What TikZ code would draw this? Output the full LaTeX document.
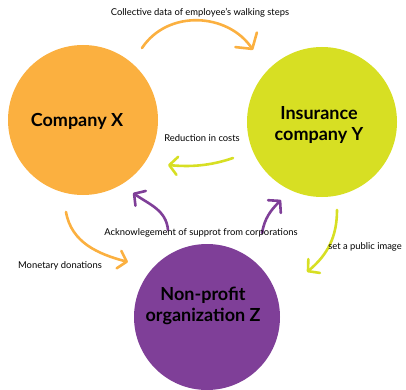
\documentclass[tikz,border=0pt]{standalone}
\usepackage{fontspec}
\setmainfont{Lato}
\usetikzlibrary{arrows.meta, positioning}
\definecolor{C_ORG}{HTML}{FBB040}
\definecolor{C_GRN}{HTML}{D7DF23}
\definecolor{C_PUR}{HTML}{7F3F98}

\begin{document}
\begin{tikzpicture}[
  x=1pt, y=1pt,
  every node/.style={font=\fontsize{9.4}{11}\selectfont},
  party/.style={circle, inner sep=0pt, minimum size=150pt},
  title/.style={font=\fontsize{18}{21}\selectfont\bfseries, align=center},
  flow/.style={-{Straight Barb[round, length=8pt, width=18pt]},
               line width=2.6pt, line cap=round},
]
\useasboundingbox (0,0) rectangle (406,389);

%% the three parties
\node[party, fill=C_ORG] (compx) at (83,269) {};
\node[party, fill=C_GRN] (insy)  at (322,267) {};
\node[party, fill=C_PUR, minimum size=146pt] (npz) at (207,72) {};

\node[title] (compxtxt) at (77,268) {Company X};
\node[title] (insytxt)  at (319,264) {Insurance\\company Y};
\node[title] (npztxt)   at (203,83) {Non-profit\\organization Z};

%% arrow ends
\coordinate (dataS) at (142,341);  \coordinate (dataE) at (253,339);
\coordinate (costS) at (233,231);  \coordinate (costE) at (168,224);
\coordinate (ackLS) at (168,159);  \coordinate (ackLE) at (133,196);
\coordinate (ackRS) at (262,156);  \coordinate (ackRE) at (281,189);
\coordinate (donS)  at (66,177);   \coordinate (donE)  at (128,127);
\coordinate (imgS)  at (337,179);  \coordinate (imgE)  at (307,117);

%% flows
\draw[flow, C_ORG, -{Straight Barb[round, length=11pt, width=26pt]}]
  (dataS) .. controls (168,380) and (228,376) .. (dataE);
\draw[flow, C_GRN] (costS) .. controls (210,223) and (190,222) .. (costE);
\draw[flow, C_PUR] (ackLS) to[out=95, in=-35] (ackLE);
\draw[flow, C_PUR] (ackRS) to[out=80, in=225] (ackRE);
\draw[flow, C_ORG] (donS) to[out=-80, in=165] (donE);
\draw[flow, C_GRN] (imgS) to[out=-90, in=40] (imgE);

%% labels
\node (datatxt) at (200,376) {Collective data of employee’s walking steps};
\node (costtxt) at (202,251) {Reduction in costs};
\node (acktxt)  at (201,156) {Acknowlegement of supprot from corporations};
\node (imgtxt)  at (365,142) {set a public image};
\node (dontxt)  at (60,123)  {Monetary donations};

\end{tikzpicture}
\end{document}
